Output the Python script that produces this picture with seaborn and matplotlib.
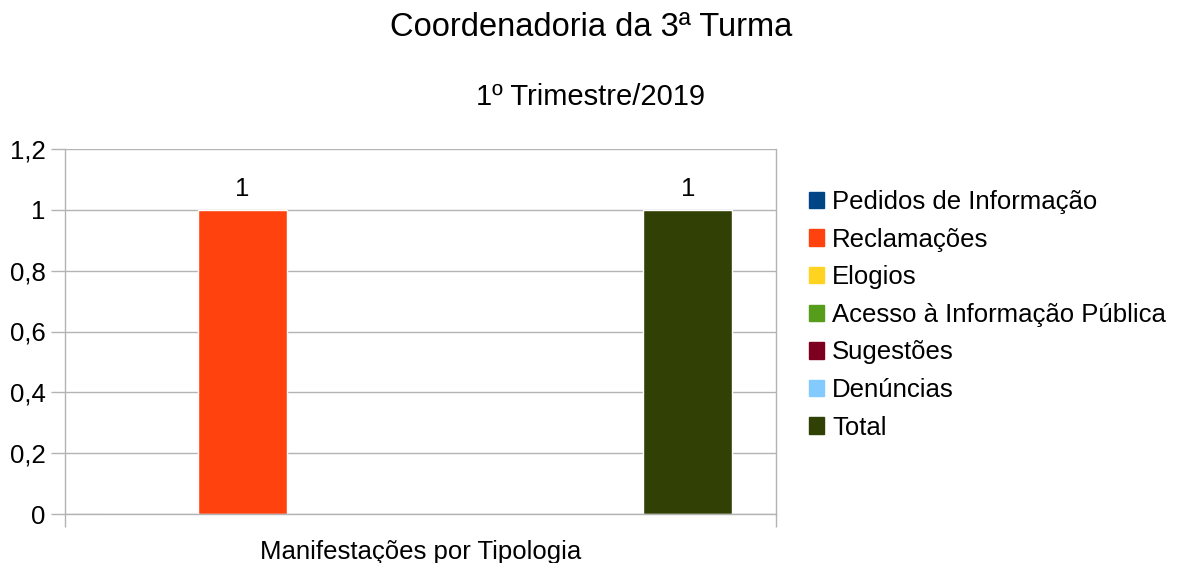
import matplotlib
matplotlib.use("Agg")
import matplotlib.pyplot as plt
import seaborn as sns
import pandas as pd

# chart data
category = "Manifestações por Tipologia"
series = ["Pedidos de Informação", "Reclamações", "Elogios",
          "Acesso à Informação Pública", "Sugestões", "Denúncias", "Total"]
values = [0, 1, 0, 0, 0, 0, 1]
colors = ["#004586", "#ff420e", "#ffd320", "#579d1c", "#7e0021", "#83caff", "#314004"]
yticks = [0, 0.2, 0.4, 0.6, 0.8, 1.0, 1.2]
ytick_labels = ["0", "0,2", "0,4", "0,6", "0,8", "1", "1,2"]

sns.set_style("white")
plt.rcParams['font.family'] = ['Liberation Sans', 'DejaVu Sans']
plt.rcParams['text.color'] = 'black'
plt.rcParams['axes.labelcolor'] = 'black'

df = pd.DataFrame({"cat": [category] * len(series), "Tipo": series, "Valor": values})

fig = plt.figure(figsize=(11.83, 5.63), dpi=100)
ax = fig.add_axes([65 / 1183, 1 - 514 / 563, (776 - 65) / 1183, (514 - 149) / 563])

sns.barplot(data=df, x="cat", y="Valor", hue="Tipo", hue_order=series,
            palette=colors, width=0.877, dodge=True, ax=ax, legend=False,
            saturation=1)

fs = 18.5
# labels above nonzero bars only
for cont, v in zip(ax.containers, values):
    ax.bar_label(cont, labels=[str(v) if v else ""], padding=6, fontsize=fs, color="black")

ax.set_xlim(-0.5, 0.5)
ax.set_ylim(0, 1.2)
ax.set_yticks(yticks)
ax.set_yticklabels(ytick_labels, fontsize=fs)
ax.set_xticks([-0.5, 0.5])
ax.set_xticklabels(["", ""])
ax.set_xlabel(category, fontsize=fs, labelpad=6)
ax.set_ylabel("")
ax.grid(axis="y", color="#b3b3b3", linewidth=1)
ax.set_axisbelow(True)
ax.tick_params(axis="y", left=True, length=10, color="#b3b3b3", width=1, pad=4, labelcolor="black")
ax.tick_params(axis="x", bottom=True, length=9, color="#b3b3b3", width=1)
ax.spines["top"].set_visible(False)
for s in ["left", "right", "bottom"]:
    ax.spines[s].set_color("#b3b3b3")
    ax.spines[s].set_linewidth(1)

# legend to the right
handles = [plt.Rectangle((0, 0), 1, 1, color=c) for c in colors]
fig.legend(handles, series, loc="upper left", bbox_to_anchor=(809 / 1183, 1 - 190 / 563),
           frameon=False, fontsize=fs, handlelength=0.6, handleheight=0.6,
           handletextpad=0.3, labelspacing=0.53, borderaxespad=0, borderpad=0)

fig.text(591 / 1183, 1 - 27 / 563, "Coordenadoria da 3ª Turma", ha="center", va="center", fontsize=23.5)
fig.text(591 / 1183, 1 - 97 / 563, "1º Trimestre/2019", ha="center", va="center", fontsize=21)

fig.savefig("out.png", dpi=100)
